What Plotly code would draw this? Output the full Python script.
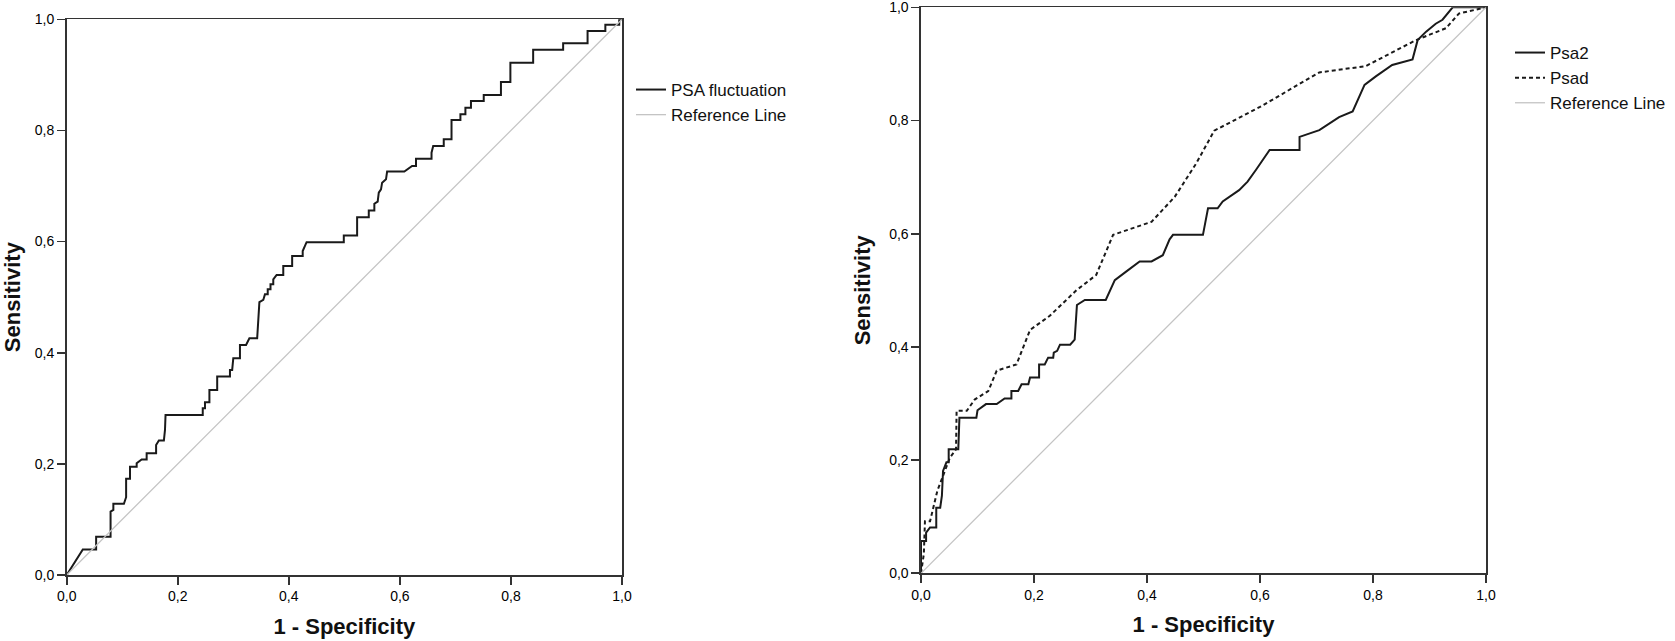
import plotly.graph_objects as go

# ---- data ----
psa_fluct_fpr = [0, 0.029, 0.053, 0.053, 0.079, 0.079, 0.084, 0.084, 0.103, 0.107, 0.107, 0.114, 0.114,
                 0.126, 0.126, 0.135, 0.144, 0.144, 0.161, 0.161, 0.166, 0.175, 0.177, 0.178, 0.245,
                 0.245, 0.249, 0.249, 0.257, 0.257, 0.271, 0.271, 0.294, 0.294, 0.298, 0.300, 0.312,
                 0.312, 0.323, 0.329, 0.343, 0.347, 0.354, 0.357, 0.362, 0.362, 0.367, 0.367, 0.372,
                 0.372, 0.378, 0.390, 0.390, 0.406, 0.406, 0.425, 0.425, 0.432, 0.499, 0.499, 0.523,
                 0.523, 0.544, 0.544, 0.554, 0.554, 0.560, 0.562, 0.566, 0.568, 0.575, 0.577, 0.608,
                 0.622, 0.629, 0.629, 0.657, 0.657, 0.660, 0.679, 0.679, 0.693, 0.693, 0.709, 0.709,
                 0.718, 0.718, 0.728, 0.728, 0.751, 0.751, 0.782, 0.782, 0.799, 0.799, 0.840, 0.840,
                 0.894, 0.894, 0.938, 0.938, 0.970, 0.970, 0.995, 0.995, 1.0]
psa_fluct_tpr = [0, 0.046, 0.046, 0.069, 0.069, 0.114, 0.117, 0.128, 0.128, 0.140, 0.173, 0.173, 0.195,
                 0.195, 0.201, 0.208, 0.208, 0.219, 0.219, 0.234, 0.242, 0.242, 0.261, 0.288, 0.288,
                 0.300, 0.300, 0.311, 0.311, 0.333, 0.333, 0.357, 0.357, 0.369, 0.369, 0.390, 0.390,
                 0.414, 0.414, 0.426, 0.426, 0.491, 0.495, 0.505, 0.505, 0.514, 0.514, 0.523, 0.523,
                 0.532, 0.540, 0.540, 0.556, 0.556, 0.574, 0.574, 0.583, 0.599, 0.599, 0.611, 0.611,
                 0.644, 0.644, 0.656, 0.656, 0.668, 0.672, 0.688, 0.694, 0.706, 0.712, 0.726, 0.726,
                 0.736, 0.736, 0.749, 0.749, 0.760, 0.772, 0.772, 0.784, 0.784, 0.819, 0.819, 0.829,
                 0.829, 0.841, 0.841, 0.853, 0.853, 0.864, 0.864, 0.887, 0.887, 0.922, 0.922, 0.945,
                 0.945, 0.957, 0.957, 0.979, 0.979, 0.990, 0.990, 1.0, 1.0]

psa2_fpr = [0, 0, 0.009, 0.009, 0.016, 0.027, 0.027, 0.034, 0.037, 0.039, 0.045, 0.049, 0.049, 0.066,
            0.068, 0.098, 0.100, 0.115, 0.134, 0.148, 0.160, 0.160, 0.172, 0.178, 0.190, 0.193, 0.209,
            0.209, 0.219, 0.225, 0.234, 0.235, 0.241, 0.246, 0.264, 0.272, 0.276, 0.290, 0.327, 0.343,
            0.363, 0.387, 0.408, 0.428, 0.440, 0.446, 0.499, 0.508, 0.525, 0.534, 0.563, 0.578, 0.593,
            0.608, 0.617, 0.670, 0.670, 0.705, 0.740, 0.764, 0.785, 0.805, 0.834, 0.870, 0.879, 0.894,
            0.911, 0.923, 0.941, 1.0]
psa2_tpr = [0, 0.057, 0.057, 0.072, 0.081, 0.081, 0.116, 0.116, 0.137, 0.181, 0.196, 0.196, 0.219, 0.219,
            0.275, 0.275, 0.288, 0.299, 0.299, 0.309, 0.309, 0.322, 0.322, 0.334, 0.334, 0.346, 0.346,
            0.369, 0.369, 0.381, 0.381, 0.390, 0.393, 0.404, 0.404, 0.413, 0.474, 0.483, 0.483, 0.518,
            0.533, 0.551, 0.551, 0.562, 0.590, 0.598, 0.598, 0.645, 0.645, 0.657, 0.677, 0.692, 0.713,
            0.734, 0.748, 0.748, 0.771, 0.783, 0.806, 0.816, 0.863, 0.878, 0.898, 0.908, 0.942, 0.957,
            0.971, 0.978, 1.0, 1.0]

psad_fpr = [0, 0.005, 0.007, 0.016, 0.029, 0.039, 0.051, 0.062, 0.063, 0.081, 0.095, 0.119, 0.134, 0.169,
            0.193, 0.228, 0.275, 0.310, 0.340, 0.408, 0.449, 0.487, 0.519, 0.600, 0.705, 0.787, 0.876,
            0.929, 0.952, 1.0]
psad_tpr = [0, 0.034, 0.092, 0.092, 0.146, 0.172, 0.204, 0.219, 0.287, 0.287, 0.307, 0.322, 0.358, 0.369,
            0.430, 0.455, 0.500, 0.527, 0.598, 0.621, 0.665, 0.724, 0.782, 0.824, 0.885, 0.896, 0.942,
            0.963, 0.989, 1.0]

ref_x = [0, 1]
ref_y = [0, 1]
tick_vals = [0, 0.2, 0.4, 0.6, 0.8, 1.0]

FONT = "Liberation Sans, Arial, sans-serif"
DARK = "#1a1a1a"
GREY = "#c4c4c4"

fig = go.Figure()

fig.add_trace(go.Scatter(x=psa_fluct_fpr, y=psa_fluct_tpr, mode="lines", name="PSA fluctuation",
                         line=dict(color=DARK, width=2), xaxis="x", yaxis="y", legend="legend"))
fig.add_trace(go.Scatter(x=ref_x, y=ref_y, mode="lines", name="Reference Line",
                         line=dict(color=GREY, width=1.3), xaxis="x", yaxis="y", legend="legend"))

fig.add_trace(go.Scatter(x=psa2_fpr, y=psa2_tpr, mode="lines", name="Psa2",
                         line=dict(color=DARK, width=2), xaxis="x2", yaxis="y2", legend="legend2"))
fig.add_trace(go.Scatter(x=psad_fpr, y=psad_tpr, mode="lines", name="Psad",
                         line=dict(color=DARK, width=2, dash="4px,3px"), xaxis="x2", yaxis="y2",
                         legend="legend2"))
fig.add_trace(go.Scatter(x=ref_x, y=ref_y, mode="lines", name="Reference Line",
                         line=dict(color=GREY, width=1.3), xaxis="x2", yaxis="y2", legend="legend2"))

W, H = 1675, 641

def ax_common(title):
    return dict(
        range=[0, 1], tickvals=tick_vals, tickformat=".1f", automargin=False,
        ticklabeloverflow="allow",
        showline=True, linecolor="#333333", linewidth=1.6, mirror=True,
        ticks="outside", ticklen=8, tickwidth=1.6, tickcolor="#333333",
        showgrid=False, zeroline=False,
        tickfont=dict(family=FONT, size=14, color="#000000"),
        title=dict(text="<b>%s</b>" % title, font=dict(family=FONT, size=22, color="#111111")),
    )

xa1 = ax_common("1 - Specificity"); xa1.update(domain=[66.7 / W, 622 / W], anchor="y", title_standoff=15)
ya1 = ax_common("Sensitivity"); ya1.update(domain=[1 - 575 / H, 1 - 19.3 / H], anchor="x", title_standoff=9)
xa2 = ax_common("1 - Specificity"); xa2.update(domain=[921 / W, 1486 / W], anchor="y2", title_standoff=15)
ya2 = ax_common("Sensitivity"); ya2.update(domain=[1 - 573.3 / H, 1 - 7.3 / H], anchor="x2", title_standoff=12)

fig.update_layout(
    width=W, height=H,
    margin=dict(l=0, r=0, t=0, b=0, autoexpand=False),
    paper_bgcolor="white", plot_bgcolor="white",
    separators=", ",
    font=dict(family=FONT, color="#111111"),
    xaxis=xa1, yaxis=ya1, xaxis2=xa2, yaxis2=ya2,
    legend=dict(x=631 / W, y=1 - 72 / H, xanchor="left", yanchor="top",
                font=dict(family=FONT, size=17, color="#111111"),
                bgcolor="rgba(0,0,0,0)", tracegroupgap=0, itemwidth=30),
    legend2=dict(x=1510 / W, y=1 - 35 / H, xanchor="left", yanchor="top",
                 font=dict(family=FONT, size=17, color="#111111"),
                 bgcolor="rgba(0,0,0,0)", tracegroupgap=0, itemwidth=30),
    showlegend=True,
)

fig.write_html(
    "out.html",
    config={"displayModeBar": False, "staticPlot": True},
    post_script="document.body.style.margin='0';document.documentElement.style.overflow='hidden';",
)
